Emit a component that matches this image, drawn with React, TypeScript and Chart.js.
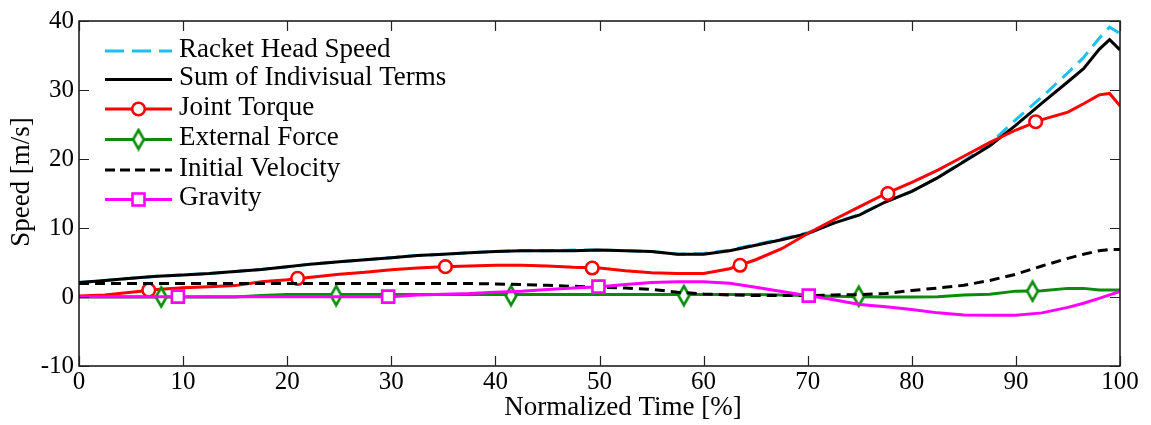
import React, { useEffect, useRef } from 'react';
import { Chart, registerables } from 'chart.js';
Chart.register(...registerables);

// ---- data ----
const timeX = [0, 2.5, 5, 7.5, 10, 12.5, 15, 17.5, 20, 22.5, 25, 27.5, 30, 32.5, 35, 37.5, 40, 42.5, 45, 47.5, 50, 52.5, 55, 57.5, 60, 62.5, 65, 67.5, 70, 72.5, 75, 77.5, 80, 82.5, 85, 87.5, 90, 92.5, 95, 96.5, 98, 99, 100];

const racketHeadSpeed = [2.1, 2.4, 2.7, 3.0, 3.2, 3.4, 3.7, 4.0, 4.4, 4.8, 5.1, 5.4, 5.7, 6.0, 6.2, 6.4, 6.6, 6.7, 6.7, 6.8, 6.8, 6.7, 6.6, 6.2, 6.3, 6.8, 7.6, 8.4, 9.3, 10.7, 12.0, 13.8, 15.3, 17.3, 19.7, 22.2, 25.7, 29.0, 32.5, 34.7, 37.5, 39.1, 38.2];
const sumOfTerms = [2.1, 2.4, 2.7, 3.0, 3.2, 3.4, 3.7, 4.0, 4.4, 4.8, 5.1, 5.4, 5.7, 6.0, 6.2, 6.4, 6.6, 6.7, 6.7, 6.7, 6.8, 6.7, 6.6, 6.2, 6.2, 6.7, 7.5, 8.3, 9.2, 10.7, 11.9, 13.8, 15.3, 17.3, 19.6, 21.9, 24.9, 28.1, 31.2, 33.1, 35.9, 37.3, 35.8];
const jointTorque = [0.15, 0.3, 0.7, 1.1, 1.35, 1.5, 1.65, 2.2, 2.5, 2.9, 3.3, 3.6, 3.95, 4.2, 4.4, 4.5, 4.6, 4.6, 4.5, 4.3, 4.2, 3.8, 3.5, 3.4, 3.4, 4.1, 5.4, 7.0, 9.2, 11.2, 13.1, 15.0, 16.6, 18.4, 20.4, 22.4, 24.2, 25.7, 26.8, 28.0, 29.3, 29.5, 27.7];
const externalForce = [0, 0, 0, 0, 0, 0, 0, 0.2, 0.35, 0.35, 0.35, 0.35, 0.35, 0.35, 0.35, 0.35, 0.35, 0.35, 0.35, 0.35, 0.35, 0.35, 0.35, 0.35, 0.35, 0.35, 0.35, 0.3, 0.2, 0.1, 0.05, 0.0, 0.0, 0.05, 0.3, 0.4, 0.85, 0.9, 1.25, 1.25, 1.0, 1.0, 1.0];
const initialVelocity = [1.95, 1.95, 1.95, 1.95, 1.95, 1.95, 1.95, 1.95, 1.95, 1.95, 1.95, 1.95, 1.95, 1.95, 1.95, 1.95, 1.9, 1.8, 1.7, 1.55, 1.4, 1.3, 1.1, 0.7, 0.45, 0.3, 0.2, 0.2, 0.2, 0.3, 0.35, 0.5, 0.95, 1.3, 1.7, 2.4, 3.3, 4.5, 5.6, 6.2, 6.7, 6.9, 6.9];
const gravity = [0.05, 0.05, 0.05, 0.05, 0.05, 0.05, 0.05, 0.05, 0.05, 0.05, 0.05, 0.05, 0.05, 0.3, 0.4, 0.5, 0.7, 0.85, 1.1, 1.3, 1.5, 1.8, 2.1, 2.2, 2.2, 2.0, 1.4, 0.8, 0.2, -0.4, -1.1, -1.4, -1.8, -2.3, -2.6, -2.65, -2.65, -2.3, -1.5, -0.9, -0.2, 0.3, 0.8];

const jointMarkX = [6.7, 21.0, 35.2, 49.3, 63.5, 77.7, 91.9];
const jointMarkY = [1.0, 2.7, 4.4, 4.2, 4.6, 15.0, 25.4];
const externalMarkX = [7.9, 24.7, 41.5, 58.1, 74.9, 91.6];
const externalMarkY = [0.0, 0.2, 0.2, 0.2, 0.1, 0.85];
const gravityMarkX = [9.5, 29.7, 49.9, 70.1];
const gravityMarkY = [0.05, 0.05, 1.5, 0.2];

const xTicks = [0, 10, 20, 30, 40, 50, 60, 70, 80, 90, 100];
const yTicks = [-10, 0, 10, 20, 30, 40];

const legendLabels = ['Racket Head Speed', 'Sum of Indivisual Terms', 'Joint Torque', 'External Force', 'Initial Velocity', 'Gravity'];

const CYAN = '#1CC0F0';
const BLACK = '#000000';
const RED = '#FF0000';
const GREEN = '#0A8C0A';
const MAGENTA = '#FF00FF';
const FONT = '27px "Liberation Serif"';

export default function App() {
  const ref = useRef<HTMLCanvasElement>(null);

  useEffect(() => {
    document.body.style.margin = '0';
    const canvas = ref.current!;
    const pts = (ys: number[]) => timeX.map((x, i) => ({ x, y: ys[i] }));
    const mk = (xs: number[], ys: number[]) => xs.map((x, i) => ({ x, y: ys[i] }));

    const diamond = document.createElement('canvas');
    diamond.width = 16;
    diamond.height = 24;
    const dc = diamond.getContext('2d')!;
    dc.beginPath();
    dc.moveTo(8, 2.5);
    dc.lineTo(13.4, 12);
    dc.lineTo(8, 21.5);
    dc.lineTo(2.6, 12);
    dc.closePath();
    dc.fillStyle = '#fff';
    dc.fill();
    dc.lineWidth = 2.6;
    dc.strokeStyle = GREEN;
    dc.stroke();

    const lineDs = (label: string, data: number[], color: string, order: number, dash: number[] = []) => ({
      label,
      data: pts(data),
      borderColor: color,
      backgroundColor: color,
      borderWidth: 3,
      borderDash: dash,
      pointRadius: 0,
      tension: 0,
      fill: false,
      order,
    });

    const overlay = {
      id: 'overlay',
      afterDatasetsDraw(chart: any) {
        const c = chart.ctx as CanvasRenderingContext2D;
        const a = chart.chartArea;
        const xs = chart.scales.x;
        const ys = chart.scales.y;
        c.save();
        // box
        c.strokeStyle = '#111';
        c.lineWidth = 1.5;
        c.setLineDash([]);
        c.strokeRect(a.left, a.top, a.right - a.left, a.bottom - a.top);
        // inward ticks
        c.lineWidth = 1.2;
        c.strokeStyle = '#222';
        const TL = 10;
        c.beginPath();
        for (const t of xTicks) {
          const p = Math.round(xs.getPixelForValue(t)) + 0.5;
          c.moveTo(p, a.bottom);
          c.lineTo(p, a.bottom - TL);
          c.moveTo(p, a.top);
          c.lineTo(p, a.top + TL);
        }
        for (const t of yTicks) {
          const p = Math.round(ys.getPixelForValue(t)) + 0.5;
          c.moveTo(a.left, p);
          c.lineTo(a.left + TL, p);
          c.moveTo(a.right, p);
          c.lineTo(a.right - TL, p);
        }
        c.stroke();

        // axis titles
        c.fillStyle = '#000';
        c.font = FONT;
        c.textAlign = 'center';
        c.textBaseline = 'middle';
        c.fillText('Normalized Time [%]', 623, 408);
        c.save();
        c.translate(22, 182);
        c.rotate(-Math.PI / 2);
        c.fillText('Speed [m/s]', 0, 0);
        c.restore();

        // legend
        const rows = [51, 79.5, 109, 139.5, 170, 199.5];
        const x0 = 105, x1 = 172, xm = 138.5;
        const styles = [
          { color: CYAN, dash: [19, 8], marker: '' },
          { color: BLACK, dash: [], marker: '' },
          { color: RED, dash: [], marker: 'circle' },
          { color: GREEN, dash: [], marker: 'diamond' },
          { color: BLACK, dash: [10, 5], marker: '' },
          { color: MAGENTA, dash: [], marker: 'square' },
        ];
        styles.forEach((s, i) => {
          const y = rows[i];
          c.strokeStyle = s.color;
          c.lineWidth = 3;
          c.setLineDash(s.dash);
          c.beginPath();
          c.moveTo(x0, y);
          c.lineTo(x1, y);
          c.stroke();
          c.setLineDash([]);
          if (s.marker === 'circle') {
            c.beginPath();
            c.arc(xm, y, 6.3, 0, Math.PI * 2);
            c.fillStyle = '#fff';
            c.fill();
            c.lineWidth = 2.6;
            c.strokeStyle = s.color;
            c.stroke();
          } else if (s.marker === 'diamond') {
            c.drawImage(diamond, xm - 8, y - 12);
          } else if (s.marker === 'square') {
            c.fillStyle = '#fff';
            c.fillRect(xm - 6, y - 6, 12, 12);
            c.lineWidth = 2.6;
            c.strokeStyle = s.color;
            c.strokeRect(xm - 6, y - 6, 12, 12);
          }
          c.fillStyle = '#000';
          c.textAlign = 'left';
          c.textBaseline = 'alphabetic';
          c.fillText(legendLabels[i], 179, y + 5.5);
        });
        c.restore();
      },
    };

    const chart = new Chart(canvas, {
      type: 'line',
      data: {
        datasets: [
          lineDs(legendLabels[0], racketHeadSpeed, CYAN, 10, [14, 8]),
          lineDs(legendLabels[1], sumOfTerms, BLACK, 9),
          lineDs(legendLabels[2], jointTorque, RED, 8),
          {
            label: 'jt markers',
            data: mk(jointMarkX, jointMarkY),
            showLine: false,
            pointStyle: 'circle',
            pointRadius: 6.3,
            pointBackgroundColor: '#fff',
            pointBorderColor: RED,
            pointBorderWidth: 2.6,
            order: 7,
          },
          lineDs(legendLabels[3], externalForce, GREEN, 6),
          {
            label: 'ef markers',
            data: mk(externalMarkX, externalMarkY),
            showLine: false,
            pointStyle: diamond,
            pointRadius: 8,
            order: 5,
          },
          lineDs(legendLabels[4], initialVelocity, BLACK, 4, [10, 6]),
          lineDs(legendLabels[5], gravity, MAGENTA, 3),
          {
            label: 'g markers',
            data: mk(gravityMarkX, gravityMarkY),
            showLine: false,
            pointStyle: 'rect',
            pointRadius: 8.5,
            pointBackgroundColor: '#fff',
            pointBorderColor: MAGENTA,
            pointBorderWidth: 2.6,
            order: 2,
          },
        ] as any,
      },
      options: {
        responsive: false,
        animation: false,
        devicePixelRatio: 1,
        layout: { padding: { left: 0, right: 31, top: 21, bottom: 0 } },
        plugins: { legend: { display: false }, tooltip: { enabled: false }, title: { display: false } },
        scales: {
          x: {
            type: 'linear',
            min: 0,
            max: 100,
            grid: { display: false, drawTicks: false },
            border: { display: false },
            ticks: {
              stepSize: 10,
              padding: 1,
              color: '#000',
              font: { family: 'Liberation Serif', size: 25 },
              maxRotation: 0,
              autoSkip: false,
            },
            afterFit: (s: any) => {
              s.height = 59;
            },
          },
          y: {
            type: 'linear',
            min: -10,
            max: 40,
            grid: { display: false, drawTicks: false },
            border: { display: false },
            ticks: {
              stepSize: 10,
              padding: 5,
              color: '#000',
              font: { family: 'Liberation Serif', size: 25 },
            },
            afterFit: (s: any) => {
              s.width = 79;
            },
          },
        },
      } as any,
      plugins: [overlay],
    });
    return () => chart.destroy();
  }, []);

  return <canvas ref={ref} width={1151} height={425} style={{ display: 'block' }} />;
}
